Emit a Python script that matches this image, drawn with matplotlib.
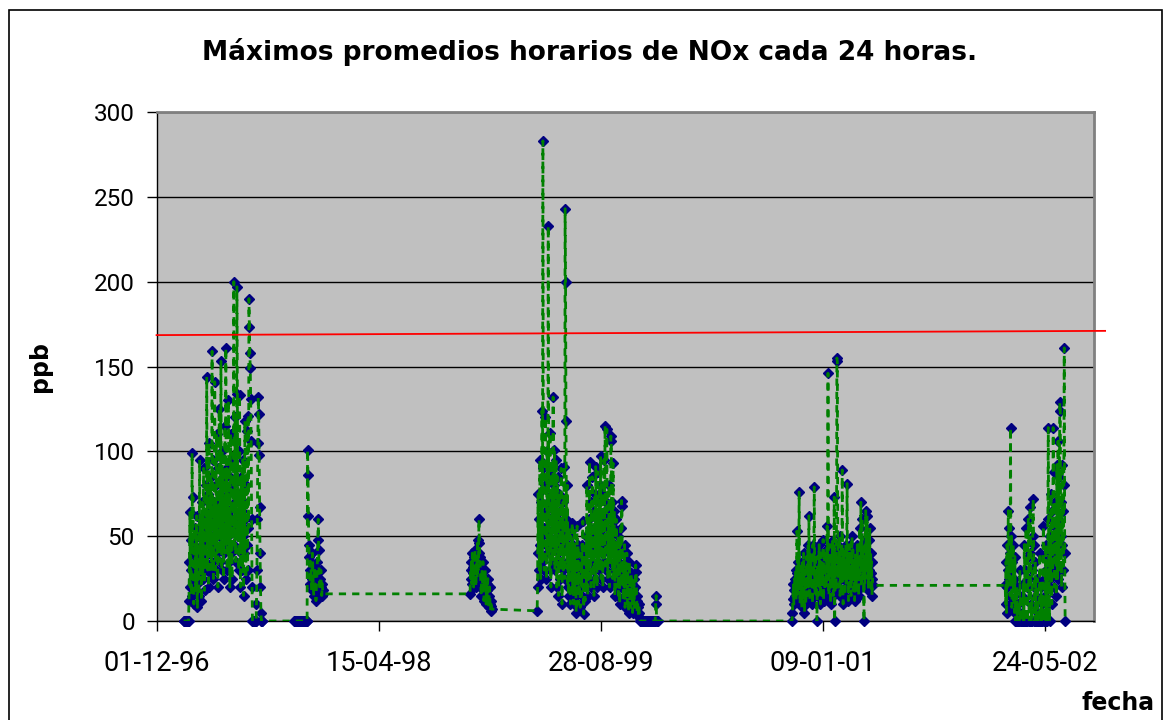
import matplotlib
matplotlib.use("Agg")
import matplotlib.pyplot as plt
import matplotlib.dates as mdates
from matplotlib.patches import Rectangle
import pandas as pd

# ---------------- data (daily maxima of hourly NOx averages, ppb) ----------------
seg1_start = "1997-01-30"
seg1_values = [0, 0, 0, 0, 0, 0, 0, 0, 0, 0, 0, 0,
               12, 35, 64, 20, 48, 30, 15, 99, 40, 73,
               25, 10, 45, 30, 55, 18, 38, 62, 22, 8,
               30, 50, 15, 40, 95, 28, 60, 35, 12, 45,
               70, 25, 55, 90, 38, 18, 62, 30, 80, 48,
               144, 55, 30, 75, 20, 105, 40, 65, 28, 85,
               50, 35, 159, 60, 95, 25, 70, 45, 141, 55,
               30, 80, 110, 40, 65, 20, 90, 50, 125, 35,
               75, 45, 153, 60, 30, 100, 55, 85, 25, 70,
               40, 115, 60, 161, 45, 90, 30, 75, 50, 130,
               35, 65, 20, 85, 110, 40, 60, 25, 95, 55,
               80, 200, 45, 70, 120, 35, 60, 90, 197, 134,
               50, 75, 30, 100, 133, 55, 20, 85, 40, 65,
               30, 95, 50, 15, 70, 40, 118, 60, 25, 80,
               45, 112, 30, 121, 55, 190, 173, 158, 149, 131,
               106, 60, 20, 0, 0, 0, 0, 0, 0, 0,
               0, 0, 10, 30, 60, 105, 132, 122, 98, 67, 40, 20, 5, 0, 0, 0]

seg2_start = "1997-10-06"
seg2_values = [0, 0, 0, 0, 0, 0, 0, 0, 0, 0, 0, 0, 0, 0, 0,
               0, 0, 0, 0, 0, 0, 0, 0, 0, 0, 0, 0, 0, 0, 0,
               101, 86, 62, 45, 38, 30, 22, 35, 28, 18, 25, 40,
               30, 20, 15, 22, 32, 26, 18, 12, 20, 28, 35, 48,
               60, 42, 30, 22, 18, 25, 30, 20, 15, 22, 18, 16]

seg3_start = "1998-11-06"
seg3_values = [16, 30, 25, 35, 22, 40, 28, 32, 20, 38, 26, 42, 30, 20, 28, 35, 25,
               48, 30, 40, 60, 46, 38, 28, 20, 15, 25, 30, 22, 35, 18, 12, 26,
               20, 30, 16, 10, 22, 14, 18, 25, 12, 8, 15, 20, 10, 6, 12, 9, 7]

seg4_start = "1999-04-06"
seg4_values = [6, 20, 75, 40, 60, 30, 95, 45, 25, 70, 50, 124, 35, 283, 90, 55, 30, 80, 120, 45,
               65, 25, 100, 40, 70, 233, 85, 50, 30, 111, 60, 20, 90, 45, 75, 35, 132, 80, 55, 101,
               30, 70, 45, 95, 20, 60, 85, 40, 15, 75, 50, 25, 65, 35, 90, 55, 10, 45, 70, 30,
               50, 91, 25, 243, 200, 118, 60, 35, 80, 20, 45, 15, 55, 30, 40, 10, 50, 25, 35, 58,
               20, 45, 10, 30, 55, 15, 40, 25, 5, 35, 56, 20, 45, 10, 30, 18, 40, 8, 25, 35,
               15, 45, 20, 59, 30, 4, 25, 40, 12, 35, 50, 20, 80, 30, 15, 45, 60, 25, 94, 40,
               55, 20, 70, 35, 85, 45, 30, 65, 15, 50, 75, 25, 91, 40, 60, 20, 88, 35, 55, 70,
               30, 80, 45, 97, 25, 60, 40, 75, 20, 50, 95, 35, 65, 115, 45, 30, 70, 113, 55, 25,
               60, 40, 80, 20, 50, 35, 109, 106, 45, 70, 25, 93, 55, 30, 65, 15, 45, 35, 60, 20,
               40, 25, 50, 15, 35, 45, 10, 30, 55, 20, 71, 68, 25, 40, 12, 30, 20, 45, 8, 35,
               15, 25, 40, 10, 30, 20, 5, 25, 35, 12, 20, 8, 28, 15, 22, 5, 18, 10, 25, 12,
               8, 20, 33, 29, 15, 5, 12, 8, 3, 10, 5, 2, 0,
               0, 0, 0, 0, 0, 0, 0, 0, 0, 0, 0, 0, 0, 0, 0, 0, 0,
               0, 0, 0, 0, 0, 0, 0, 0, 0, 0, 0, 0, 0, 0, 0, 0, 0,
               10, 15, 0, 0, 0, 0]

seg5_start = "2000-10-31"
seg5_values = [0, 5, 13, 22, 10, 18, 25, 15, 30, 12, 20, 53, 28, 15, 35, 20, 76, 30, 10, 22,
               15, 28, 8, 35, 20, 12, 40, 25, 5, 18, 30, 10, 22, 38, 15, 28, 45, 20, 62, 30,
               12, 35, 25, 40, 18, 30, 10, 45, 22, 35, 79, 28, 15, 40, 20, 30, 0, 25, 38, 15,
               30, 45, 20, 35, 10, 28, 40, 15, 33, 22, 48, 12, 30, 38, 18, 25, 42, 20, 35, 56,
               30, 146, 40, 15, 35, 25, 45, 10, 30, 38, 20, 47, 28, 15, 35, 73, 0, 25, 40, 18,
               35, 155, 153, 45, 20, 38, 28, 50, 15, 35, 25, 42, 18, 89, 30, 10, 40, 25, 35, 15,
               30, 45, 20, 38, 81, 25, 40, 12, 35, 28, 45, 20, 30, 15, 38, 50, 25, 42, 18, 35,
               28, 12, 40, 22, 35, 18, 30, 45, 25, 38, 15, 32, 55, 28, 40, 70, 20, 35, 60, 25,
               45, 30, 0, 38, 22, 48, 65, 30, 40, 62, 25, 35, 18, 48, 30, 55, 20, 40, 28, 35,
               15, 25, 21]

seg6_start = "2002-02-23"
seg6_values = [21, 10, 35, 5, 45, 20, 30, 65, 55, 25, 40, 15, 114, 30, 50, 8, 35, 20, 45, 12,
               25, 5, 38, 0, 0, 0, 20, 0, 0, 10, 0, 0, 0, 30, 5, 0, 0, 15, 0, 0,
               0, 22, 0, 45, 30, 0, 0, 55, 20, 0, 0, 38, 60, 25, 0, 0, 67, 40, 0, 10,
               0, 30, 50, 72, 45, 20, 0, 0, 35, 15, 0, 0, 25, 0, 0, 5, 0, 0, 40, 0,
               0, 20, 0, 10, 0, 38, 56, 25, 0, 0, 15, 45, 0, 30, 10, 0, 60, 114, 35, 20,
               0, 50, 25, 75, 40, 10, 65, 30, 114, 88, 45, 20, 70, 35, 55, 15, 92, 40, 25, 106,
               60, 30, 85, 129, 124, 50, 70, 20, 92, 45, 65, 30, 80, 161, 40, 0]

threshold_dates = ["1996-11-30", "2002-10-06"]
threshold_values = [168.5, 171.0]

x_tick_dates = ["1996-12-01", "1998-04-15", "1999-08-28", "2001-01-09", "2002-05-24"]
y_ticks = [0, 50, 100, 150, 200, 250, 300]

title = "Máximos promedios horarios de NOx cada 24 horas."
y_label = "ppb"
x_label = "fecha"

# ---------------- build series ----------------
segments = [(seg1_start, seg1_values), (seg2_start, seg2_values), (seg3_start, seg3_values),
            (seg4_start, seg4_values), (seg5_start, seg5_values), (seg6_start, seg6_values)]
dates = []
values = []
for start, vals in segments:
    dates.extend(pd.date_range(start, periods=len(vals), freq="D"))
    values.extend(vals)

# ---------------- figure ----------------
fig = plt.figure(figsize=(11.67, 7.20), dpi=100)
fig.patch.set_facecolor("white")
ax = fig.add_axes([157 / 1167, 1 - 621 / 720, (1094 - 157) / 1167, (621 - 112) / 720])
ax.set_facecolor("#C0C0C0")

ax.plot(dates, values, linestyle="none", marker="D", markersize=5.0,
        color="#000080", markeredgecolor="#000080", zorder=3, clip_on=False)
ax.plot(dates, values, color="#008000", linewidth=2.0, linestyle=(0, (2.6, 2.2)), zorder=4)

ax.plot(pd.to_datetime(threshold_dates), threshold_values, color="#FF0000",
        linewidth=1.3, zorder=5, clip_on=False)

x0 = pd.Timestamp("1996-12-01")
ax.set_xlim(x0, x0 + pd.Timedelta(days=2110))
ax.set_ylim(0, 300)
ax.set_yticks(y_ticks)
ax.set_xticks(pd.to_datetime(x_tick_dates))
ax.xaxis.set_major_formatter(mdates.DateFormatter("%d-%m-%y"))

ax.grid(axis="y", color="black", linewidth=1.0, zorder=1)
ax.set_axisbelow(True)

for side in ["top", "right"]:
    ax.spines[side].set_color("#808080")
    ax.spines[side].set_linewidth(2.0)
for side in ["left", "bottom"]:
    ax.spines[side].set_color("black")
    ax.spines[side].set_linewidth(1.0)

ax.tick_params(axis="y", direction="out", length=7, width=1, pad=9,
               labelsize=17.5, labelfontfamily="Roboto")
ax.tick_params(axis="x", direction="out", length=7, width=1, pad=14,
               labelsize=19.5, labelfontfamily="Roboto")

fig.text(590 / 1167, 1 - 52 / 720, title, ha="center", va="center",
         fontsize=19, fontweight="bold", family="DejaVu Sans")
fig.text(40 / 1167, 1 - 366 / 720, y_label, ha="center", va="center", rotation=90,
         fontsize=17, fontweight="bold", family="DejaVu Sans")
fig.text(1118 / 1167, 1 - 703 / 720, x_label, ha="center", va="center",
         fontsize=17, fontweight="bold", family="DejaVu Sans")

fig.patches.append(Rectangle((8.5 / 1167, -0.05), (1162 - 8.5) / 1167, 1.05 - 10 / 720,
                             transform=fig.transFigure, fill=False,
                             edgecolor="black", linewidth=1.2, clip_on=False))

fig.savefig("out.png", dpi=100, facecolor="white")
